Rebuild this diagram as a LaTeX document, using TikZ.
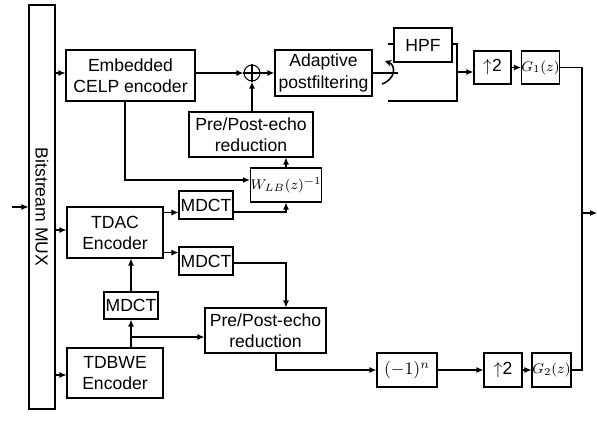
\documentclass[tikz,border=0pt]{standalone}
\usepackage{fontspec}
\setmainfont{Liberation Sans}
\usepackage{amsmath}
\usetikzlibrary{arrows.meta, positioning}

\begin{document}
\begin{tikzpicture}[
    x=0.2mm, y=-0.2mm,
    block/.style={draw, rectangle, line width=0.6pt, inner sep=0pt, align=center},
    arrow/.style={-{Latex[length=1.4mm, width=1.2mm]}, line width=1pt},
    thinarrow/.style={-{Latex[length=1.4mm, width=1.2mm]}, line width=0.6pt},
    wire/.style={line width=0.6pt}
]
    \useasboundingbox (0,0) rectangle (597,421);

    % Multiplexer
    \node[block, minimum width=5.2mm, minimum height=80.8mm] (mux) at (42,207) {};
    \node[rotate=-90] (muxlabel) at (mux.center) {Bitstream MUX};
    \coordinate (in) at (12,207);

    % Encoders and transforms
    \node[block, minimum width=25.8mm, minimum height=10.2mm] (celp) at (130.5,75.5) {Embedded\\CELP encoder};
    \node[block, minimum width=19.2mm, minimum height=10.2mm] (tdac) at (115,232.5) {TDAC\\Encoder};
    \node[block, minimum width=19.2mm, minimum height=10mm] (tdbwe) at (115,373) {TDBWE\\Encoder};
    \node[block, minimum width=10.8mm, minimum height=5.6mm] (mdcta) at (206,205) {MDCT};
    \node[block, minimum width=10.8mm, minimum height=5.6mm] (mdctb) at (206,261) {MDCT};
    \node[block, minimum width=10.8mm, minimum height=5.4mm] (mdctc) at (131,305.5) {MDCT};

    % Low band path
    \node[draw, circle, line width=0.6pt, minimum size=3.2mm, inner sep=0pt] (sum) at (252,73) {};
    \draw[line width=0.6pt] (sum.north) -- (sum.south) (sum.west) -- (sum.east);
    \node[block, minimum width=24.8mm, minimum height=9mm] (echoa) at (251,134.5) {Pre/Post-echo\\reduction};
    \node[block, minimum width=12.8mm, minimum height=6.8mm, font=\footnotesize] (wlb) at (286,185) {$W_{LB}(z)^{-1}$};
    \node[block, minimum width=19.4mm, minimum height=9.2mm] (postf) at (323.5,73) {Adaptive\\postfiltering};
    \node[block, minimum width=11.6mm, minimum height=6.8mm] (hpf) at (423,45) {HPF};
    \node[block, minimum width=7.4mm, minimum height=6.6mm] (upa) at (492.5,67.5) {$\uparrow$2};
    \node[block, minimum width=7.4mm, minimum height=6.6mm, font=\footnotesize] (gone) at (540.5,67.5) {$G_1(z)$};

    % High band path
    \node[block, minimum width=24.2mm, minimum height=9mm] (echob) at (265.5,330.5) {Pre/Post-echo\\reduction};
    \node[block, minimum width=12mm, minimum height=6.8mm] (sign) at (407,370) {$(-1)^n$};
    \node[block, minimum width=7.6mm, minimum height=6.8mm] (upb) at (503,370) {$\uparrow$2};
    \node[block, minimum width=7.8mm, minimum height=6.8mm, font=\footnotesize] (gtwo) at (551.5,370) {$G_2(z)$};

    % Switch points
    \coordinate (sw) at (398,73);
    \coordinate (hl) at (388,44);
    \coordinate (hb) at (457,101);
    \coordinate (bl) at (388,101);
    \coordinate (jn) at (582,213);
    \coordinate (out) at (597,213);

    % Connections from the multiplexer
    \draw[thinarrow] (in) -- (mux.west |- in);
    \draw[thinarrow] (mux.east |- 0,73) -- (celp.west |- 0,73);
    \draw[thinarrow] (mux.east |- 0,230) -- (tdac.west |- 0,230);
    \draw[thinarrow] (mux.east |- 0,375) -- (tdbwe.west |- 0,375);

    % Low band
    \draw[arrow] (celp.east |- sum) -- (sum.west);
    \draw[arrow] (sum.east) -- (postf.west |- sum);
    \draw[arrow] (echoa.north -| sum) -- (sum.south);
    \draw[arrow] ([xshift=-1.1mm]celp.south) |- ([yshift=1mm]wlb.west);
    \draw[thinarrow] (wlb.north) -- (wlb.north |- echoa.south);
    \draw[thinarrow] ([yshift=-1.2mm]tdac.north east) coordinate (ta) -- (ta -| mdcta.west);
    \draw[thinarrow] ([yshift=-1.4mm]mdcta.east) -| (wlb.south);
    \draw[wire] (postf.east |- sw) -- (sw);
    \draw[-{Stealth[length=1.3mm, width=1.3mm]}, line width=0.9pt] (382,84) .. controls (396,79) and (396,65) .. (385,61);
    \draw[wire] (hl) -- (hpf.west |- hl);
    \draw[wire] (hpf.east |- hl) -| (hb) -- (bl);
    \draw[arrow] (hb |- 0,72) -- (upa.west |- 0,72);
    \draw[thinarrow] (upa.east) -- (gone.west);

    % High band
    \draw[thinarrow] ([yshift=1.2mm]tdac.south east) coordinate (tb) -- (tb -| mdctb.west);
    \draw[thinarrow] ([yshift=-0.4mm]mdctb.east) -| ([xshift=4.1mm]echob.north);
    \draw[arrow] (mdctc.north) -- (mdctc.north |- tdac.south);
    \draw[arrow] (tdbwe.north -| mdctc) -- (mdctc.south);
    \draw[arrow] (tdbwe.north -| mdctc) |- ([yshift=-1.3mm]echob.west);
    \draw[arrow] ([xshift=2.1mm]echob.south) |- (sign.west);
    \draw[arrow] (sign.east) -- (upb.west);
    \draw[thinarrow] (upb.east) -- (gtwo.west);

    % Output
    \draw[wire] (gone.east) -| (jn) |- (gtwo.east);
    \draw[thinarrow] (jn) -- (out);

\end{tikzpicture}
\end{document}
